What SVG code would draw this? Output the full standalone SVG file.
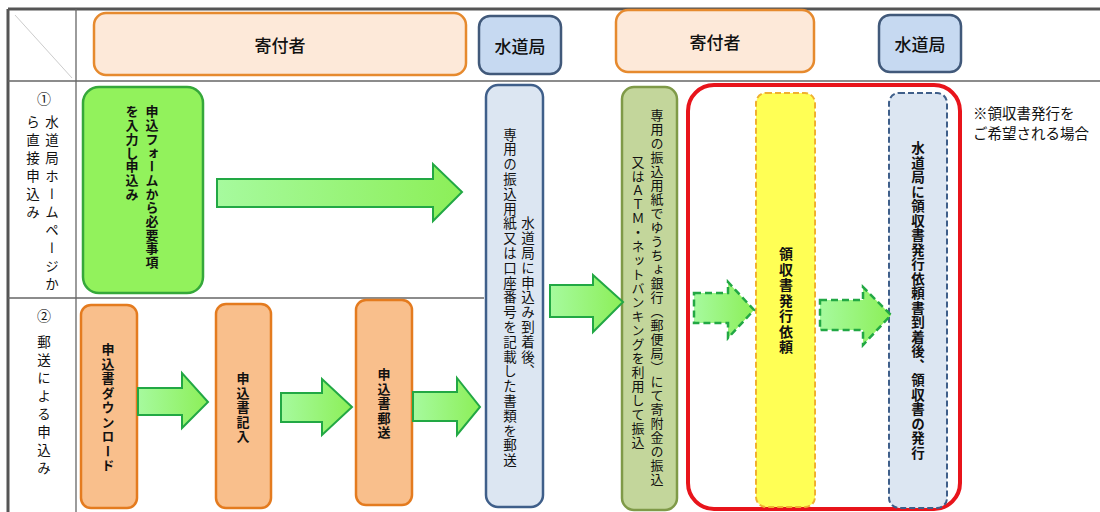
<svg xmlns="http://www.w3.org/2000/svg" width="1100" height="512" viewBox="0 0 1100 512">
<defs>
<linearGradient id="ga" x1="0" y1="0" x2="1" y2="0">
<stop offset="0" stop-color="#a6fa9e"/>
<stop offset="1" stop-color="#8cef58"/>
</linearGradient>
<style>
text{font-family:"Noto Sans CJK JP","Noto Sans CJK SC",sans-serif;fill:#111;}
.v{writing-mode:vertical-rl;text-orientation:mixed;}
.hd{font-size:17px;font-weight:500;text-anchor:middle;dominant-baseline:central;}
.lb{font-size:13.5px;font-weight:400;letter-spacing:4.5px;}
.ob{font-size:13px;font-weight:700;letter-spacing:1.5px;}
.gb{font-size:13px;font-weight:700;letter-spacing:0.7px;}
.r14{font-size:13.5px;font-weight:400;letter-spacing:1.3px;}
.g14{font-size:13px;font-weight:400;letter-spacing:1px;}
.mid{text-anchor:middle;}
.hOr{fill:#fde9d9;stroke:#e68a2e;stroke-width:2.5;}
.hBl{fill:#c6d9f1;stroke:#41597a;stroke-width:2.5;}
.or{fill:#f9bf8c;stroke:#e47b1f;stroke-width:2.5;}
.arr{fill:url(#ga);stroke:#22a844;stroke-width:2;}
.darr{fill:url(#ga);stroke:#22a844;stroke-width:2.5;stroke-dasharray:7 4;}
.grid{stroke:#666;stroke-width:1.3;fill:none;}
.frame{stroke:#555;stroke-width:3;fill:none;}
</style>
</defs>
<rect width="1100" height="512" fill="#fff"/>
<g id="table">
<line class="frame" x1="8" y1="9" x2="1100" y2="9"/>
<line class="frame" x1="8" y1="9" x2="8" y2="512"/>
<line class="grid" x1="8" y1="81" x2="1100" y2="81"/>
<line class="grid" x1="76" y1="9" x2="76" y2="512"/>
<line class="grid" x1="8" y1="298" x2="484" y2="298"/>
<line x1="15" y1="15" x2="72" y2="78" stroke="#ccc" stroke-width="1"/>
</g>
<g id="header-donor1"><rect class="hOr" x="94" y="13" width="372" height="62" rx="12"/><text class="hd" x="280" y="44">寄付者</text></g>
<g id="header-water1"><rect class="hBl" x="479" y="16" width="82" height="58" rx="11"/><text class="hd" x="520" y="45">水道局</text></g>
<g id="header-donor2"><rect class="hOr" x="616" y="10" width="198" height="62" rx="12"/><text class="hd" x="715" y="41">寄付者</text></g>
<g id="header-water2"><rect class="hBl" x="879" y="15" width="82" height="57" rx="11"/><text class="hd" x="920" y="43.5">水道局</text></g>
<g id="row1-label">
<text x="44" y="98" font-size="14" text-anchor="middle" dominant-baseline="central">①</text>
<text class="v lb" x="52" y="115">水道局ホームページか</text>
<text class="v lb" x="33" y="115">ら直接申込み</text>
</g>
<g id="row2-label">
<text x="44" y="315" font-size="14" text-anchor="middle" dominant-baseline="central">②</text>
<text class="v lb" x="44" y="335">郵送による申込み</text>
</g>
<g id="web-form">
<rect x="83" y="87" width="120" height="206" rx="16" fill="#92f25c" stroke="#35a83a" stroke-width="2.5"/>
<text class="v gb" x="152" y="105">申込フォームから必要事項</text>
<text class="v gb" x="132" y="105">を入力し申込み</text>
</g>
<g id="download">
<rect class="or" x="81" y="305" width="56" height="203" rx="10"/>
<text class="v ob mid" x="108" y="408">申込書ダウンロード</text>
</g>
<g id="fill-in">
<rect class="or" x="216" y="304" width="55" height="204" rx="10"/>
<text class="v ob mid" x="243" y="408">申込書記入</text>
</g>
<g id="mail">
<rect class="or" x="356" y="300" width="56" height="205" rx="10"/>
<text class="v ob mid" x="384" y="404">申込書郵送</text>
</g>
<g id="water-send">
<rect x="486" y="85" width="57" height="422" rx="12" fill="#dce6f2" stroke="#3f5f8a" stroke-width="2.5"/>
<text class="v r14 mid" x="528" y="298">水道局に申込み到着後、</text>
<text class="v r14 mid" x="510" y="298">専用の振込用紙又は口座番号を記載した書類を郵送</text>
</g>
<g id="payment">
<rect x="622" y="87" width="55" height="423" rx="12" fill="#c3d69b" stroke="#7f9a48" stroke-width="2.5"/>
<text class="v g14 mid" x="657" y="298">専用の振込用紙でゆうちょ銀行（郵便局）にて寄附金の振込</text>
<text class="v g14 mid" x="638" y="303">又はＡＴＭ・ネットバンキングを利用して振込</text>
</g>
<g id="receipt-area">
<rect x="688" y="85" width="272" height="424" rx="26" fill="none" stroke="#e8141b" stroke-width="4"/>
</g>
<g id="receipt-request">
<rect x="756" y="93" width="59" height="414" rx="10" fill="#ffff55" stroke="#f0b030" stroke-width="2" stroke-dasharray="6 3"/>
<text class="v mid" x="786" y="301" font-size="14" font-weight="700" letter-spacing="1.5">領収書発行依頼</text>
</g>
<g id="receipt-issue">
<rect x="889" y="93" width="58" height="415" rx="10" fill="#dce6f2" stroke="#3f5f8a" stroke-width="2" stroke-dasharray="6 3"/>
<text class="v mid" x="918" y="301" font-size="13.5" font-weight="700" letter-spacing="1">水道局に領収書発行依頼書到着後、領収書の発行</text>
</g>
<g id="note">
<text x="973" y="119" font-size="14.5">※領収書発行を</text>
<text x="973" y="139" font-size="14.5">ご希望される場合</text>
</g>
<g id="connectors">
<path class="arr" d="M217,179 H433 V164 L462,192 L433,221 V207 H217 Z"/>
<path class="arr" d="M138,388 H182 V373 L208,402 L182,428 V415 H138 Z"/>
<path class="arr" d="M281,393 H322 V379 L352,407 L322,435 V422 H281 Z"/>
<path class="arr" d="M413,392 H457 V378 L480,407 L457,435 V421 H413 Z"/>
<path class="arr" d="M550,285 H593 V275 L623,302 L593,332 V317 H550 Z"/>
<path class="darr" d="M694,293 H728 V282 L754,310 L728,338 V323 H694 Z"/>
<path class="darr" d="M820,300 H863 V287 L891,315 L863,345 V330 H820 Z"/>
</g>
</svg>
